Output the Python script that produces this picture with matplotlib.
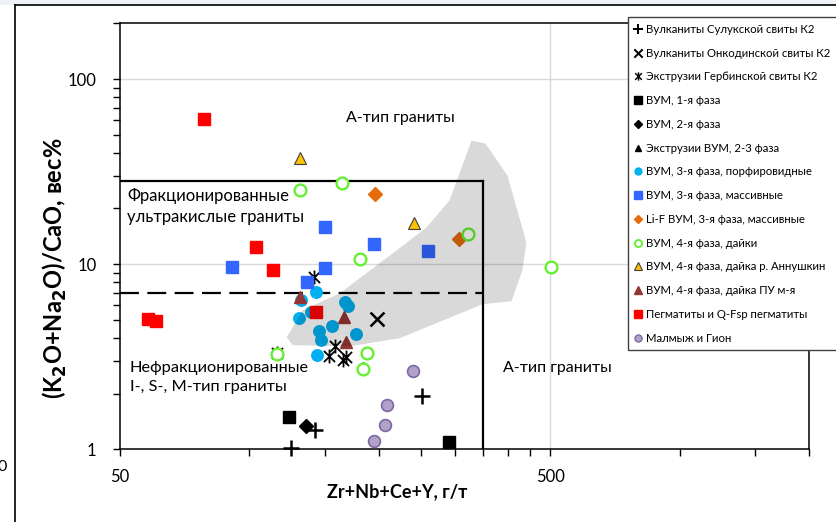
import matplotlib
matplotlib.use("Agg")
import matplotlib.pyplot as plt
from matplotlib.lines import Line2D
from matplotlib.patches import Polygon, Rectangle
from matplotlib.path import Path
from matplotlib.ticker import FixedLocator, NullFormatter, FuncFormatter

plt.rcParams['font.family'] = ['Lato', 'DejaVu Sans']

# ---- data: Zr+Nb+Ce+Y (ppm) vs (K2O+Na2O)/CaO ----
sulukskaya_x = [124.7, 142.4, 252.2]
sulukskaya_y = [1.01, 1.27, 1.94]

onkodinskaya_x = [197.6]
onkodinskaya_y = [5.07]

gerbinskaya_x = [141.3, 116.0, 152.8, 157.8, 164.9, 168.0]
gerbinskaya_y = [8.49, 3.30, 3.18, 3.60, 3.03, 3.16]

phase1_x = [123.5, 291.8]
phase1_y = [1.50, 1.10]

phase2_x = [135.6]
phase2_y = [1.335]

extr23_x = [184.0]
extr23_y = [2.78]

phase3_porph_x = [143.1, 132.0, 130.6, 138.8, 166.9, 169.7, 155.6, 144.9, 146.4, 176.5, 143.8]
phase3_porph_y = [7.11, 6.38, 5.13, 5.50, 6.22, 5.96, 4.62, 4.33, 3.87, 4.20, 3.24]

phase3_mass_x = [91.0, 149.6, 149.6, 136.4, 195.0, 259.8]
phase3_mass_y = [9.65, 15.85, 9.58, 8.01, 12.9, 11.82]

lif_x = [195.4, 306.8]
lif_y = [24.0, 13.73]

dykes4_x = [130.9, 163.9, 180.7, 322.6, 501.6, 116.0, 188.0, 183.6]
dykes4_y = [25.0, 27.4, 10.61, 14.53, 9.65, 3.29, 3.32, 2.73]

annushkin_x = [131.4, 240.8]
annushkin_y = [37.5, 16.74]

pu_x = [130.9, 165.9, 167.4]
pu_y = [6.62, 5.17, 3.82]

pegmatite_x = [78.5, 103.3, 113.7, 142.6, 58.2, 60.6]
pegmatite_y = [60.9, 12.37, 9.26, 5.52, 5.08, 4.93]

malmyzh_x = [239.9, 208.8, 206.2, 194.4]
malmyzh_y = [2.65, 1.73, 1.35, 1.11]

# discrimination field boundaries
fg_x_limit = 350
fg_y_top = 28
og_y_limit = 7

# shaded field outline (x, y)
field_x = [122.1, 133.0, 162.1, 219.9, 258.0, 291.8, 328.4, 353.8, 398.0, 440.5,
           431.2, 406.6, 348.0, 223.4, 171.0, 126.1]
field_y = [4.03, 5.64, 6.96, 11.87, 15.79, 22.08, 46.5, 44.8, 30.1, 13.11,
           9.26, 6.30, 6.07, 3.98, 3.60, 3.65]

x_major = [50, 500]
x_minor = [100, 150, 200, 250, 300, 350, 400, 450, 1000, 1500, 2000]
y_major = [1, 10, 100]
y_minor = [2, 3, 4, 5, 6, 7, 8, 9, 20, 30, 40, 50, 60, 70, 80, 90, 200]

labels = [
    "Вулканиты Сулукской свиты К2",
    "Вулканиты Онкодинской свиты К2",
    "Экструзии Гербинской свиты К2",
    "ВУМ, 1-я фаза",
    "ВУМ, 2-я фаза",
    "Экструзии ВУМ, 2-3 фаза",
    "ВУМ, 3-я фаза, порфировидные",
    "ВУМ, 3-я фаза, массивные",
    "Li-F ВУМ, 3-я фаза, массивные",
    "ВУМ, 4-я фаза, дайки",
    "ВУМ, 4-я фаза, дайка р. Аннушкин",
    "ВУМ, 4-я фаза, дайка ПУ м-я",
    "Пегматиты и Q-Fsp пегматиты",
    "Малмыж и Гион",
]

W, H = 836, 522
fig = plt.figure(figsize=(W / 100, H / 100), dpi=100)
fig.patch.set_facecolor('white')

# page frame around the chart
fig.patches.append(Rectangle((0, 1 - 5 / H), 1, 5 / H, transform=fig.transFigure,
                             facecolor='#EEF2F8', edgecolor='none'))
fig.add_artist(Line2D([15 / W, 1], [1 - 5 / H, 1 - 5 / H], transform=fig.transFigure,
                      color='black', lw=1.2))
fig.add_artist(Line2D([15 / W, 15 / W], [0, 1 - 5 / H], transform=fig.transFigure,
                      color='black', lw=1.2))
fig.text(-3 / W, 1 - 467 / H, "0", fontsize=11.5, ha='left', va='center')

ax = fig.add_axes([120 / W, 1 - 449.3 / H, (809 - 120) / W, (449.3 - 23.3) / H])
ax.set_xscale('log')
ax.set_yscale('log')
ax.set_xlim(50, 2000)
ax.set_ylim(1, 200)

for s in ax.spines.values():
    s.set_linewidth(1.1)
    s.set_color('black')

ax.xaxis.set_major_locator(FixedLocator(x_major))
ax.xaxis.set_minor_locator(FixedLocator(x_minor))
ax.yaxis.set_major_locator(FixedLocator(y_major))
ax.yaxis.set_minor_locator(FixedLocator(y_minor))
fmt = FuncFormatter(lambda v, p: f"{v:g}")
ax.xaxis.set_major_formatter(fmt)
ax.yaxis.set_major_formatter(fmt)
ax.xaxis.set_minor_formatter(NullFormatter())
ax.yaxis.set_minor_formatter(NullFormatter())
ax.tick_params(axis='both', which='both', direction='out', length=5, width=1,
               labelsize=12)
ax.tick_params(axis='x', which='major', pad=9)
ax.tick_params(axis='y', which='major', pad=12)

# light grid lines
for gy in (10, 100):
    ax.axhline(gy, color='#D9D9D9', lw=1, zorder=0.5)
ax.axvline(500, color='#D9D9D9', lw=1, zorder=0.5)

# field boundaries
ax.plot([50, fg_x_limit], [fg_y_top, fg_y_top], color='black', lw=1.6, zorder=1)
ax.plot([fg_x_limit, fg_x_limit], [1, fg_y_top], color='black', lw=1.6, zorder=1)
ax.plot([50, fg_x_limit], [og_y_limit, og_y_limit], color='black', lw=1.6,
        dashes=(8.5, 3.8), zorder=1)

# plotting styles per group
x_path = Path([(-1, -1), (1, 1), (-1, 1), (1, -1)],
              [Path.MOVETO, Path.LINETO, Path.MOVETO, Path.LINETO])
star_path = Path([(-1, -1), (1, 1), (-1, 1), (1, -1), (0, -1.25), (0, 1.25)],
                 [Path.MOVETO, Path.LINETO, Path.MOVETO, Path.LINETO,
                  Path.MOVETO, Path.LINETO])

groups = [
    (sulukskaya_x, sulukskaya_y, dict(marker='+', ms=11, mec='black', mew=1.8)),
    (onkodinskaya_x, onkodinskaya_y, dict(marker=x_path, ms=10, mec='black', mew=1.8, mfc='none')),
    (gerbinskaya_x, gerbinskaya_y, dict(marker=star_path, ms=10, mec='black', mew=1.3, mfc='none')),
    (phase1_x, phase1_y, dict(marker='s', ms=8.5, mfc='black', mec='black')),
    (phase2_x, phase2_y, dict(marker='D', ms=7, mfc='black', mec='black')),
    (extr23_x, extr23_y, dict(marker='^', ms=7, mfc='black', mec='black')),
    (phase3_porph_x, phase3_porph_y, dict(marker='o', ms=8.3, mfc='#00B0F0', mec='#00B0F0')),
    (phase3_mass_x, phase3_mass_y, dict(marker='s', ms=8.5, mfc='#3366FF', mec='#3366FF')),
    (lif_x, lif_y, dict(marker='D', ms=7.5, mfc='#E46C0A', mec='#E46C0A')),
    (dykes4_x, dykes4_y, dict(marker='o', ms=8.5, mfc='white', mec='#66F033', mew=1.7)),
    (annushkin_x, annushkin_y, dict(marker='^', ms=9, mfc='#FFC000', mec='#404040', mew=0.8)),
    (pu_x, pu_y, dict(marker='^', ms=9, mfc='#943634', mec='#943634')),
    (pegmatite_x, pegmatite_y, dict(marker='s', ms=8.5, mfc='#FF0000', mec='#FF0000')),
    (malmyzh_x, malmyzh_y, dict(marker='o', ms=8.5, mfc='#B3A2C7', mec='#7B68A6', mew=1.2)),
]

handles = []
for i, (gx, gy, st) in enumerate(groups):
    ax.plot(gx, gy, ls='none', zorder=3 + i * 0.01, clip_on=False, **st)
    hst = dict(st)
    hst['ms'] = st['ms'] * 0.6
    if 'mew' in hst:
        hst['mew'] = max(hst['mew'] * 0.8, 0.8)
    handles.append(Line2D([], [], ls='none', **hst))

# translucent shaded field over the points
ax.add_patch(Polygon(list(zip(field_x, field_y)), closed=True,
                     facecolor='black', alpha=0.15, edgecolor='none', zorder=5))

# field names
ax.text(168, 61.8, "А-тип граниты", fontsize=11.5, ha='left', va='center')
ax.text(51.9, 20.5, "Фракционированные\nультракислые граниты", fontsize=12,
        ha='left', va='center', linespacing=1.45)
ax.text(52.7, 2.454, "Нефракционированные\nI-, S-, M-тип граниты", fontsize=11.8,
        ha='left', va='center', linespacing=1.45)
ax.text(388, 2.744, "А-тип граниты", fontsize=11.5, ha='left', va='center')

# axis titles
fig.text(397 / W, 1 - 492 / H, "Zr+Nb+Ce+Y, г/т", fontsize=13, fontweight='bold',
         ha='center', va='center')
fig.text(55 / W, 1 - 268 / H, "(K$_\\mathbf{2}$O+Na$_\\mathbf{2}$O)/CaO, вес%",
         fontsize=17, fontweight='bold', rotation=90, ha='center', va='center')

leg = fig.legend(handles, labels, loc='upper left',
                 bbox_to_anchor=(628 / W, 1 - 17 / H), bbox_transform=fig.transFigure,
                 frameon=True, fancybox=False, edgecolor='#404040', framealpha=1,
                 fontsize=8.2, labelspacing=1.12, handlelength=0.6, handletextpad=0.35,
                 borderpad=0.6, borderaxespad=0)
leg.get_frame().set_linewidth(1.0)
leg.set_zorder(10)

fig.savefig("out.png", dpi=100)
